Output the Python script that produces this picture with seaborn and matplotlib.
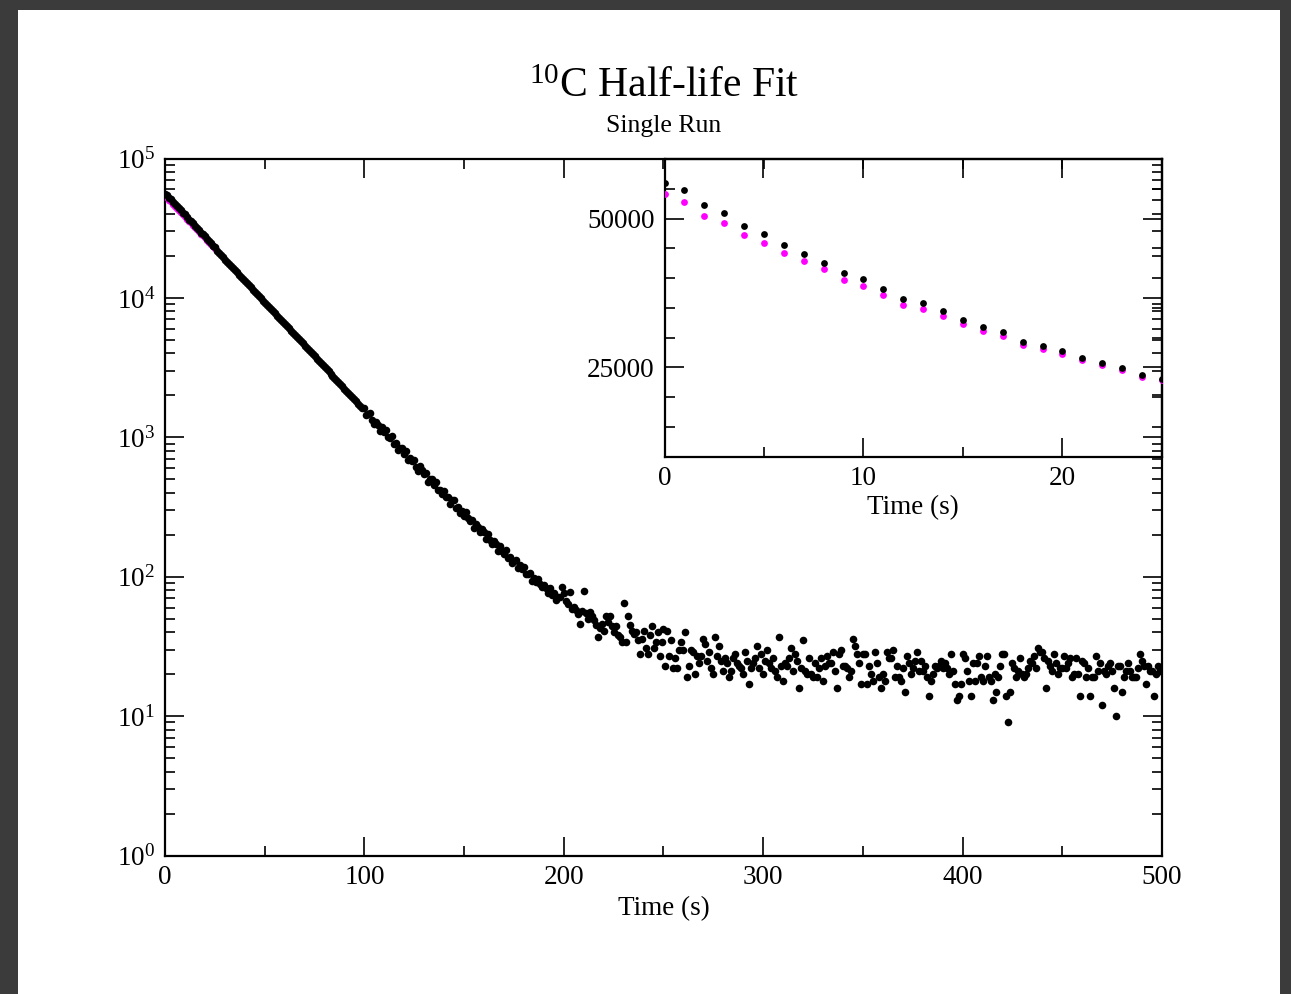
import numpy as np
import pandas as pd
import matplotlib
matplotlib.use("Agg")
import matplotlib.pyplot as plt
import seaborn as sns
from matplotlib.ticker import MultipleLocator, LogLocator, NullFormatter
from matplotlib.patches import Rectangle

# ---------------- data ----------------
time_s = list(range(0, 501))
counts = [
    56050, 54780, 52280, 50880, 48780, 47390, 45500, 44060, 42610, 40780,
    39780, 38110, 36500, 35780, 34390, 33000, 31830, 30890, 29330, 28670,
    27830, 26610, 25780, 24890, 23720, 23000, 21790, 21010, 20230, 19560,
    18850, 18200, 17540, 16960, 16330, 15790, 15220, 14690, 14180, 13650,
    13210, 12740, 12290, 11880, 11440, 11050, 10640, 10290, 9930, 9570,
    9250, 8930, 8610, 8300, 8030, 7740, 7460, 7210, 6950, 6720,
    6480, 6250, 6040, 5820, 5610, 5430, 5230, 5060, 4870, 4710,
    4540, 4380, 4230, 4080, 3940, 3800, 3670, 3540, 3420, 3300,
    3180, 3075, 2970, 2860, 2770, 2660, 2580, 2480, 2400, 2320,
    2230, 2160, 2085, 2010, 1945, 1870, 1810, 1745, 1690, 1625,
    1618, 1455, 1479, 1498, 1337, 1251, 1297, 1228, 1103, 1191,
    1095, 1121, 1000, 986, 1028, 891, 915, 814, 844, 832,
    764, 799, 692, 710, 679, 682, 615, 576, 622, 583,
    547, 550, 480, 504, 501, 457, 477, 418, 421, 395,
    413, 376, 375, 335, 354, 356, 312, 314, 286, 297,
    271, 289, 264, 250, 257, 222, 239, 226, 210, 220,
    208, 187, 202, 183, 173, 179, 171, 154, 165, 154,
    145, 155, 137, 139, 125, 129, 131, 116, 122, 113,
    118, 105, 105, 106, 93, 98, 92, 96, 88, 84,
    87, 83, 76, 83, 74, 76, 68, 72, 72, 84,
    76, 67, 64, 78, 59, 61, 58, 54, 46, 57,
    79, 55, 50, 56, 52, 49, 45, 37, 43, 46,
    41, 52, 47, 52, 44, 40, 44, 38, 37, 34,
    65, 34, 52, 45, 41, 39, 40, 35, 28, 36,
    41, 31, 28, 38, 44, 31, 34, 40, 27, 34,
    42, 23, 41, 27, 35, 22, 26, 22, 30, 34,
    30, 40, 19, 23, 30, 29, 20, 27, 24, 27,
    36, 33, 25, 29, 22, 20, 37, 27, 32, 25,
    21, 26, 24, 19, 21, 26, 28, 24, 23, 22,
    20, 29, 25, 17, 22, 24, 26, 32, 22, 28,
    20, 25, 30, 24, 22, 26, 21, 19, 37, 23,
    18, 24, 23, 26, 31, 21, 28, 25, 16, 22,
    35, 21, 20, 26, 20, 19, 24, 19, 22, 26,
    18, 23, 27, 24, 24, 29, 21, 16, 28, 30,
    23, 23, 22, 19, 21, 36, 32, 28, 24, 17,
    28, 28, 17, 23, 20, 18, 29, 24, 19, 16,
    20, 18, 29, 26, 26, 30, 19, 23, 19, 18,
    22, 15, 27, 24, 20, 22, 25, 29, 21, 25,
    21, 23, 19, 14, 18, 20, 23, 22, 23, 25,
    22, 24, 22, 20, 28, 21, 17, 13, 14, 17,
    28, 26, 21, 18, 14, 24, 18, 24, 27, 19,
    18, 23, 27, 19, 18, 13, 20, 15, 19, 23,
    28, 28, 14, 9, 15, 24, 22, 19, 21, 26,
    20, 19, 20, 22, 25, 24, 27, 22, 31, 29,
    29, 26, 16, 25, 23, 21, 28, 24, 20, 22,
    22, 27, 22, 24, 26, 19, 20, 26, 20, 14,
    25, 24, 19, 22, 14, 19, 19, 27, 21, 24,
    12, 21, 20, 23, 24, 21, 16, 10, 23, 23,
    15, 19, 21, 24, 21, 19, 19, 19, 22, 28,
    25, 23, 17, 23, 21, 21, 14, 20, 23, 21,
    22,
]
fit_time = list(range(0, 26))
fit_counts = [
    54060, 52830, 50500, 49220, 47220, 45890, 44170, 42830, 41450, 39670,
    38670, 37110, 35560, 34830, 33610, 32280, 31170, 30280, 28780, 28110,
    27280, 26220, 25330, 24560, 23440, 22890,
]
main_xticks = [0, 100, 200, 300, 400, 500]
inset_xticks = [0, 10, 20]
inset_yticks = [25000, 50000]

title_text = r"$^{\mathrm{10}}$C Half-life Fit"
subtitle_text = "Single Run"
xlabel_text = "Time (s)"

data = pd.DataFrame({"t": time_s, "n": counts})
fit = pd.DataFrame({"t": fit_time, "n": fit_counts})

# ---------------- style ----------------
sns.set_style("ticks")
plt.rcParams["font.family"] = ["Liberation Serif", "DejaVu Serif"]
plt.rcParams["mathtext.fontset"] = "custom"
plt.rcParams["mathtext.rm"] = "Liberation Serif"
plt.rcParams["mathtext.it"] = "Liberation Serif:italic"
plt.rcParams["mathtext.bf"] = "Liberation Serif:bold"
for k in ["text.color", "axes.labelcolor", "xtick.color", "ytick.color",
          "axes.edgecolor"]:
    plt.rcParams[k] = "black"

W, H = 1291, 994
fig = plt.figure(figsize=(W / 100, H / 100), dpi=100)
fig.patch.set_facecolor("#3b3b3b")
bg = Rectangle((18 / W, 0), (1280 - 18) / W, (H - 10) / H,
               transform=fig.transFigure, facecolor="white",
               edgecolor="none", zorder=-10)
fig.add_artist(bg)

def px_axes(l, t, r, b):
    return [l / W, 1 - b / H, (r - l) / W, (b - t) / H]

ax = fig.add_axes(px_axes(165, 158.5, 1162, 855.5))
ax.set_facecolor("white")

sns.scatterplot(data=fit, x="t", y="n", ax=ax, color="#ff00ff", s=30,
                linewidth=0, zorder=3)
sns.scatterplot(data=data, x="t", y="n", ax=ax, color="black", s=30,
                linewidth=0, zorder=4)
ax.set_yscale("log")
ax.set_xlim(0, 500)
ax.set_ylim(1, 1e5)
ax.set_xticks(main_xticks)
ax.xaxis.set_minor_locator(MultipleLocator(50))
ax.yaxis.set_major_locator(LogLocator(base=10, numticks=10))
ax.yaxis.set_minor_locator(LogLocator(base=10, subs=np.arange(2, 10), numticks=20))
ax.yaxis.set_minor_formatter(NullFormatter())
ax.set_xlabel(xlabel_text, fontsize=19.5, labelpad=4)
ax.set_ylabel("")
for s in ax.spines.values():
    s.set_visible(True)
    s.set_linewidth(1.6)
    s.set_color("black")
ax.tick_params(which="both", direction="in", top=True, right=True,
               labelsize=19.5, color="black", width=1.2)
ax.tick_params(which="major", length=14, pad=7)
ax.tick_params(which="minor", length=7.5)

# ---------------- inset ----------------
ins = fig.add_axes(px_axes(664.5, 159, 1162, 456.7))
ins.patch.set_alpha(0.0)
sns.scatterplot(data=fit, x="t", y="n", ax=ins, color="#ff00ff", s=24,
                linewidth=0, zorder=3)
sns.scatterplot(data=data[data["t"] <= 25], x="t", y="n", ax=ins,
                color="black", s=24, linewidth=0, zorder=4)
ins.set_xlim(0, 25)
ins.set_ylim(10000, 60000)
ins.set_xticks(inset_xticks)
ins.xaxis.set_minor_locator(MultipleLocator(5))
ins.set_yticks(inset_yticks)
ins.set_yticklabels([str(v) for v in inset_yticks])
ins.yaxis.set_minor_locator(MultipleLocator(5000))
ins.set_xlabel(xlabel_text, fontsize=19.5, labelpad=3)
ins.set_ylabel("")
for s in ins.spines.values():
    s.set_visible(True)
    s.set_linewidth(1.6)
    s.set_color("black")
ins.tick_params(which="both", direction="in", top=True, right=True,
                labelsize=19.5, color="black", width=1.2)
ins.tick_params(which="major", length=14, pad=7)
ins.tick_params(which="minor", length=7.5)

# ---------------- titles ----------------
fig.text(664 / W, 1 - 97 / H, title_text, ha="center", va="baseline",
         fontsize=30)
fig.text(664 / W, 1 - 132 / H, subtitle_text, ha="center", va="baseline",
         fontsize=18.5)

fig.savefig("out.png", dpi=100, facecolor=fig.get_facecolor())
